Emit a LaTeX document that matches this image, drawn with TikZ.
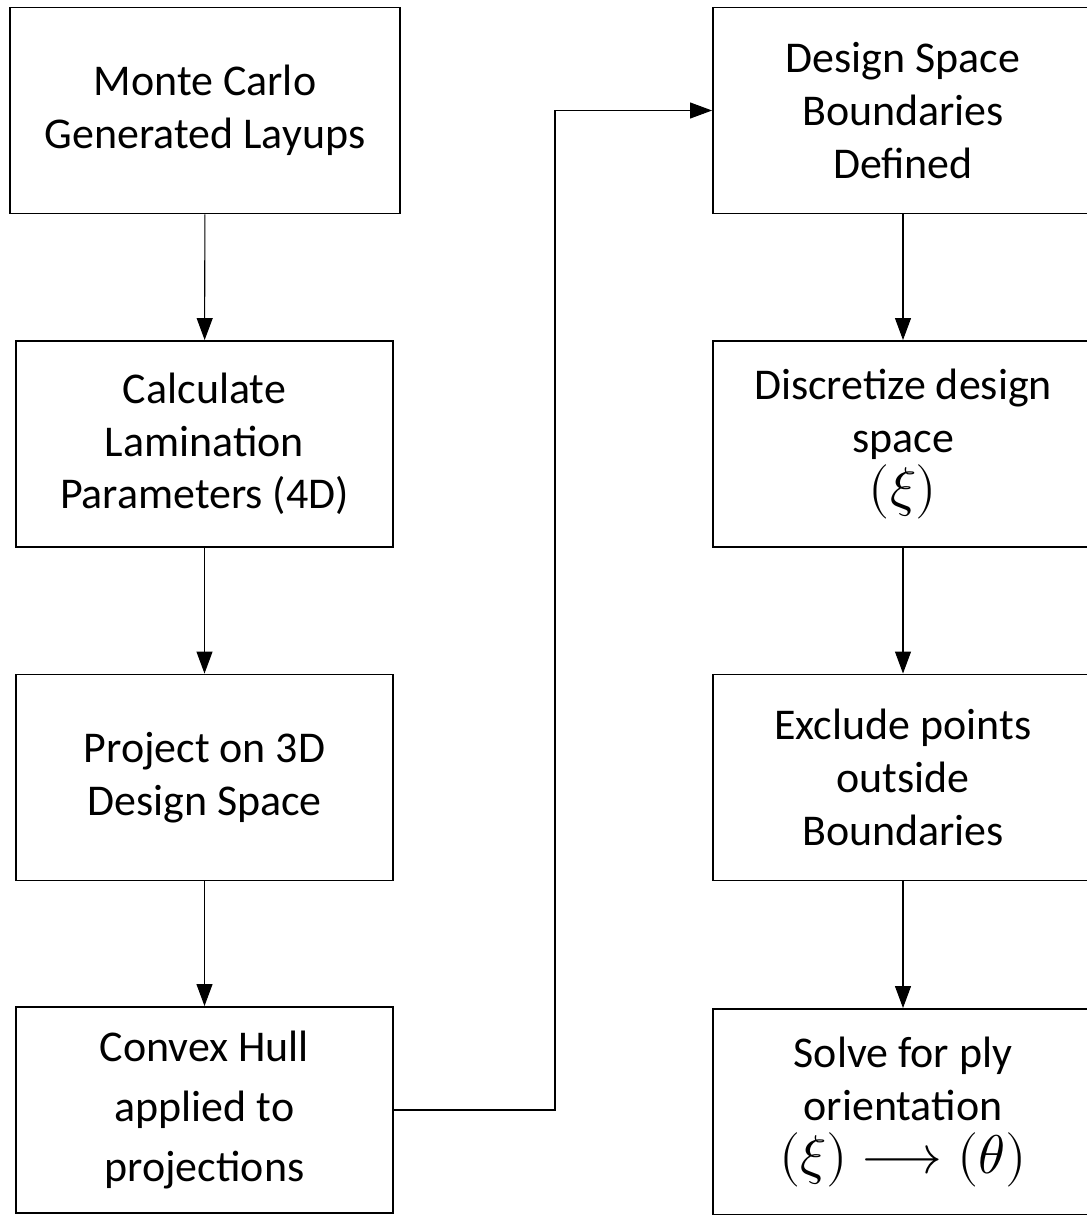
\documentclass[tikz,border=0pt]{standalone}
\usepackage{fontspec}
\usepackage{unicode-math}
\setmainfont{Carlito}
\setmathfont{Latin Modern Math}
\usetikzlibrary{arrows.meta}
\newcommand{\bigmath}[1]{{\fontsize{31}{34}\selectfont$#1$}}
\tikzset{
    stepbox/.style={draw, line width=1.1pt, rectangle, align=center,
        minimum width=75.4mm, minimum height=41.2mm, inner sep=0pt,
        font=\fontsize{25}{30}\selectfont},
    flow/.style={line width=0.6pt, -{Triangle[length=4.4mm,width=3.2mm]}}
}
\begin{document}
\begin{tikzpicture}[x=0.2mm, y=-0.2mm]
        \useasboundingbox (0,0) rectangle (1086,1215);
        % left column
        \node[stepbox, minimum width=78mm] (mc) at (205,110.5) {Monte Carlo\\Generated Layups};
        \node[stepbox] (lp) at (204.5,444) {Calculate\\Lamination\\Parameters (4D)};
        \node[stepbox] (pr) at (204.5,777.5) {Project on 3D\\Design Space};
        \node[stepbox, font=\fontsize{25}{34}\selectfont] (ch) at (204.5,1110) {Convex Hull\\applied to\\projections};
        % right column
        \node[stepbox, minimum width=76mm] (db) at (903,110.5) {Design Space\\Boundaries\\Defined};
        \node[stepbox, minimum width=76mm] (ds) at (903,444) {Discretize design\\space\\\bigmath{(\xi)}};
        \node[stepbox, minimum width=76mm] (ex) at (903,777.5) {Exclude points\\outside\\Boundaries};
        \node[stepbox, minimum width=76mm] (sv) at (903,1112) {Solve for ply\\orientation\\\bigmath{(\xi)\longrightarrow(\theta)}};
        % connectors
        \draw[flow] (mc) -- (lp);
        \draw[flow] (lp) -- (pr);
        \draw[flow] (pr) -- (ch);
        \path (ch.east) -- ++(161,0) coordinate (bend);
        \draw[flow] (ch.east) -- (bend) |- (db.west);
        \draw[flow] (db) -- (ds);
        \draw[flow] (ds) -- (ex);
        \draw[flow] (ex) -- (sv);
    \end{tikzpicture}
\end{document}
